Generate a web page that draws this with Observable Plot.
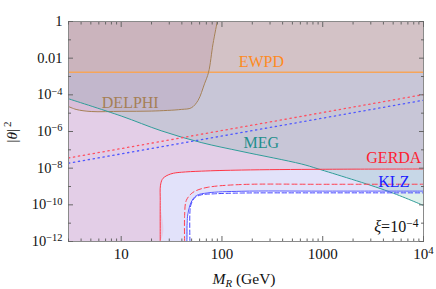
<!DOCTYPE html>
<html><head><meta charset="utf-8">
<script src="https://cdn.jsdelivr.net/npm/d3@7"></script>
<script src="https://cdn.jsdelivr.net/npm/@observablehq/plot@0.6"></script>
<style>
html,body{margin:0;padding:0;background:#fff;}
#chart svg, #chart svg text, #chart svg tspan { font-family: "Liberation Serif", "Times New Roman", serif !important; }
</style></head><body><div id="chart"></div>
<script>
// ---- tick labels ----
const xTicks = [10, 100, 1000, 10000];
const xTickLabels = ["10", "100", "1000", "10^4"];
const xMinorTicks = [3,4,5,6,7,8,9,20,30,40,50,60,70,80,90,200,300,400,500,600,700,800,900,2000,3000,4000,5000,6000,7000,8000,9000];
const yTicks = [1, 1e-2, 1e-4, 1e-6, 1e-8, 1e-10, 1e-12];
const yTickLabels = ["1", "0.01", "10^-4", "10^-6", "10^-8", "10^-10", "10^-12"];
const yMinorTicks = [1e-1, 1e-3, 1e-5, 1e-7, 1e-9, 1e-11];

// ---- series (M_R in GeV, |theta|^2) ----
const ewpdM = [3, 10000];
const ewpdT = [1.7e-3, 1.7e-3];

const delphiM = [3, 3.57, 5.04, 10, 19.9, 39.5, 49.6, 57.8, 67.1, 73.6, 81.5, 89.8];
const delphiT = [2.3e-5, 1.6e-5, 1.23e-5, 1.26e-5, 1.3e-5, 1.6e-5, 1.96e-5, 4.9e-5, 4.0e-4, 1.7e-3, 0.061, 1];

const megM = [3, 10, 24.9, 62.2, 158, 612, 897, 4450, 10000];
const megT = [6.1e-5, 7e-6, 1.1e-6, 2.5e-7, 8.1e-8, 1.7e-8, 9.2e-9, 5.5e-10, 9.2e-11];

const gerdaM = [24.4, 24.4, 24.5, 25.5, 26.7, 29.3, 33, 39.6, 62.8, 157, 1000, 10000];
const gerdaT = [1e-12, 1.7e-10, 1.1e-9, 2.4e-9, 3.2e-9, 4.3e-9, 5.3e-9, 6.0e-9, 6.9e-9, 7.9e-9, 8.7e-9, 9.0e-9];

const gerdaDashM = [42.6, 42.6, 44.2, 49.5, 55.6, 72.6, 155, 1000, 10000];
const gerdaDashT = [1e-12, 2.6e-11, 1.7e-10, 4.0e-10, 6.0e-10, 9.1e-10, 1.28e-9, 1.32e-9, 1.33e-9];

const klzM = [44.9, 45.1, 45.9, 49.5, 55.6, 72.6, 155, 1000, 10000];
const klzT = [1e-12, 1e-11, 3.2e-11, 1.4e-10, 3.2e-10, 4.5e-10, 5.5e-10, 5.6e-10, 5.6e-10];

const klzDashM = [48.1, 48.2, 49.5, 53.5, 62.2, 84.5, 155, 1000, 10000];
const klzDashT = [1e-12, 4.9e-11, 1.1e-10, 2.4e-10, 3.5e-10, 4.0e-10, 4.4e-10, 4.5e-10, 4.5e-10];

const gerdaDotM = [3, 10000];
const gerdaDotT = [3.6e-8, 1.04e-4];
const klzDotM = [3, 10000];
const klzDotT = [1.86e-8, 5.1e-5];

const xDomain = [3, 10000];
const yDomain = [1e-12, 1];

// ---- build tables ----
const pts = (Ms, Ts) => Ms.map((m, i) => ({M: m, T: Ts[i]}));
const fromFloor = (Ms, Ts) => [{M: xDomain[0], T: yDomain[0]}, ...pts(Ms, Ts)];
const yTop = () => yDomain[1];

const ewpd = pts(ewpdM, ewpdT);
const delphi = pts(delphiM, delphiT);
const meg = pts(megM, megT);
const gerda = pts(gerdaM, gerdaT);
const gerdaDash = pts(gerdaDashM, gerdaDashT);
const klz = pts(klzM, klzT);
const klzDash = pts(klzDashM, klzDashT);
const gerdaDot = pts(gerdaDotM, gerdaDotT);
const klzDot = pts(klzDotM, klzDotT);

const curve = "catmull-rom";
const tickCol = "#666";
const serif = "Liberation Serif";

const chart = Plot.plot({
  width: 436,
  height: 289,
  marginLeft: 68,
  marginRight: 13,
  marginTop: 21,
  marginBottom: 48,
  style: {fontFamily: serif, fontSize: "14px", background: "#fff"},
  x: {type: "log", domain: xDomain, label: null},
  y: {type: "log", domain: yDomain, label: null},
  marks: [
    // region fills
    Plot.areaY(fromFloor(klzM, klzT), {x: "M", y1: "T", y2: yTop, fill: "#e2e2fa", curve, clip: true}),
    Plot.areaY(fromFloor(gerdaM, gerdaT), {x: "M", y1: "T", y2: yTop, fill: "rgb(230,160,190)", fillOpacity: 0.3, curve, clip: true}),
    Plot.areaY(meg, {x: "M", y1: "T", y2: yTop, fill: "rgb(48,155,128)", fillOpacity: 0.15, curve, clip: true}),
    Plot.areaY(ewpd, {x: "M", y1: "T", y2: yTop, fill: "rgb(250,180,140)", fillOpacity: 0.22, clip: true}),
    Plot.areaY(delphi, {x: "M", y1: "T", y2: yTop, fill: "rgb(160,100,140)", fillOpacity: 0.15, curve, clip: true}),
    // boundary lines
    Plot.line(ewpd, {x: "M", y: "T", stroke: "#f5a55a", strokeWidth: 1.4, clip: true}),
    Plot.line(delphi, {x: "M", y: "T", stroke: "#a57f55", strokeWidth: 1, curve, clip: true}),
    Plot.line(meg, {x: "M", y: "T", stroke: "#2e9d98", strokeWidth: 1, curve, clip: true}),
    Plot.line(gerda, {x: "M", y: "T", stroke: "#ff3545", strokeWidth: 1, curve, clip: true}),
    Plot.line(gerdaDash, {x: "M", y: "T", stroke: "#ff4050", strokeWidth: 1, strokeDasharray: "5,3", curve, clip: true}),
    Plot.line(klz, {x: "M", y: "T", stroke: "#5555ff", strokeWidth: 1, curve, clip: true}),
    Plot.line(klzDash, {x: "M", y: "T", stroke: "#4545ff", strokeWidth: 1, strokeDasharray: "4.5,2.5", curve, clip: true}),
    Plot.line(gerdaDot, {x: "M", y: "T", stroke: "#ff5060", strokeWidth: 1.3, strokeDasharray: "1.3,3.7", clip: true}),
    Plot.line(klzDot, {x: "M", y: "T", stroke: "#5058ff", strokeWidth: 1.3, strokeDasharray: "1.3,3.7", clip: true}),
    // labels
    Plot.text(["EWPD"], {x: 246, y: 3.5e-3, text: d => d, fill: "#ff8a1e", fontSize: 16, fontFamily: serif, lineAnchor: "bottom"}),
    Plot.text(["DELPHI"], {x: 12.3, y: 2.0e-5, text: d => d, fill: "#a57f55", fontSize: 16, fontFamily: serif, lineAnchor: "bottom"}),
    Plot.text(["MEG"], {x: 246, y: 1.2e-7, text: d => d, fill: "#1f8f8c", fontSize: 16, fontFamily: serif, lineAnchor: "bottom"}),
    Plot.text(["GERDA"], {x: 5080, y: 1.86e-8, text: d => d, fill: "#ff2030", fontSize: 16, fontFamily: serif, lineAnchor: "bottom"}),
    Plot.text(["KLZ"], {x: 5080, y: 1e-9, text: d => d, fill: "#2020ff", fontSize: 16, fontFamily: serif, lineAnchor: "bottom"}),
    Plot.text(["ξ=10^-4"], {x: 8900, y: 3.2e-12, text: d => d, fill: "#111", fontSize: 16, fontFamily: serif, lineAnchor: "bottom", textAnchor: "end"}),
    // frame
    Plot.frame({stroke: "#8a8a8a", strokeWidth: 1}),
    // inward ticks
    Plot.axisX(xTicks, {anchor: "bottom", tickSize: -5, text: null, label: null, stroke: tickCol}),
    Plot.axisX(xMinorTicks, {anchor: "bottom", tickSize: -2.5, text: null, label: null, stroke: tickCol}),
    Plot.axisX(xTicks, {anchor: "top", tickSize: -5, text: null, label: null, stroke: tickCol}),
    Plot.axisX(xMinorTicks, {anchor: "top", tickSize: -2.5, text: null, label: null, stroke: tickCol}),
    Plot.axisY(yTicks, {anchor: "left", tickSize: -5, text: null, label: null, stroke: tickCol}),
    Plot.axisY(yMinorTicks, {anchor: "left", tickSize: -3, text: null, label: null, stroke: tickCol}),
    Plot.axisY(yTicks, {anchor: "right", tickSize: -5, text: null, label: null, stroke: tickCol}),
    Plot.axisY(yMinorTicks, {anchor: "right", tickSize: -3, text: null, label: null, stroke: tickCol}),
    // tick labels
    Plot.axisX(xTicks, {anchor: "bottom", tickSize: 0, tickPadding: 7, label: null, fontSize: 15, fontFamily: serif, fill: "#111",
      tickFormat: d => xTickLabels[xTicks.indexOf(d)]}),
    Plot.axisY(yTicks, {anchor: "left", tickSize: 0, tickPadding: 6, label: null, fontSize: 14.5, fontFamily: serif, fill: "#111",
      tickFormat: d => yTickLabels[yTicks.indexOf(d)]})
  ]
});

// superscripts for "a^b" texts
const SVGNS = "http://www.w3.org/2000/svg";
chart.querySelectorAll("text").forEach(t => {
  const s = t.textContent;
  if (!s.includes("^")) return;
  const [base, exp] = s.split("^");
  while (t.firstChild) t.removeChild(t.firstChild);
  if (base.startsWith("ξ")) {
    const it = document.createElementNS(SVGNS, "tspan");
    it.setAttribute("font-style", "italic");
    it.textContent = "ξ";
    t.appendChild(it);
    t.appendChild(document.createTextNode(base.slice(1)));
  } else {
    t.appendChild(document.createTextNode(base));
  }
  const sup = document.createElementNS(SVGNS, "tspan");
  sup.setAttribute("dy", "-0.45em");
  sup.setAttribute("font-size", "0.72em");
  sup.textContent = exp.replace("-", "−");
  t.appendChild(sup);
});

// axis titles
const svg = d3.select(chart);
const xl = svg.append("text")
  .attr("x", 244).attr("y", 284)
  .attr("text-anchor", "middle")
  .attr("font-family", serif)
  .attr("font-size", 15.5).attr("fill", "#111");
xl.append("tspan").attr("font-style", "italic").text("M");
xl.append("tspan").attr("font-style", "italic").attr("font-size", "0.7em").attr("dy", "0.3em").text("R");
xl.append("tspan").attr("dy", "-0.21em").text(" (GeV)");

const yl = svg.append("text")
  .attr("transform", "translate(17,132) rotate(-90)")
  .attr("text-anchor", "middle")
  .attr("font-family", serif)
  .attr("font-size", 15.5).attr("fill", "#111");
yl.append("tspan").text("|");
yl.append("tspan").attr("font-style", "italic").text("θ");
yl.append("tspan").text("|");
yl.append("tspan").attr("font-size", "0.72em").attr("dy", "-0.5em").attr("dx", "2").text("2");

document.getElementById("chart").appendChild(chart);
</script>
</body></html>
